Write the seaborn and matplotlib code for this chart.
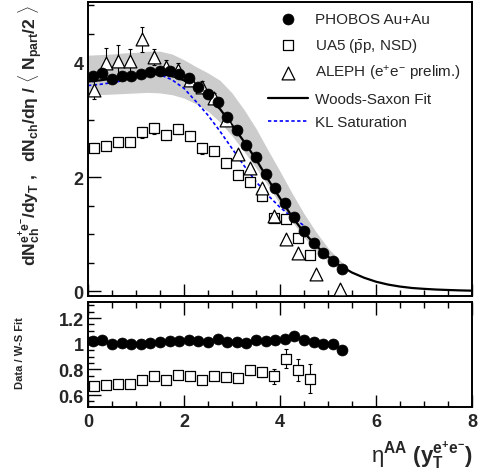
"""PHOBOS dN/deta compared to UA5 and ALEPH, with data/fit ratio panel."""

import matplotlib

matplotlib.use("Agg")

import matplotlib.pyplot as plt  # noqa: E402
import seaborn as sns  # noqa: E402
from matplotlib.ticker import MultipleLocator  # noqa: E402

# PHOBOS Au+Au (filled circles)
phobos_eta = [0.1, 0.3, 0.5, 0.7, 0.9, 1.1, 1.3, 1.5, 1.7, 1.9, 2.1, 2.3, 2.5, 2.7,
              2.9, 3.1, 3.3, 3.5, 3.7, 3.9, 4.1, 4.3, 4.5, 4.7, 4.9, 5.1, 5.3]
phobos_val = [3.76, 3.81, 3.71, 3.77, 3.76, 3.80, 3.83, 3.86, 3.85, 3.80, 3.73, 3.58, 3.46, 3.32,
              3.05, 2.82, 2.56, 2.35, 2.06, 1.80, 1.54, 1.30, 1.05, 0.85, 0.67, 0.53, 0.39]
phobos_ratio = [1.021, 1.026, 0.995, 1.003, 0.995, 1.000, 1.005, 1.016, 1.021, 1.021, 1.026,
                1.021, 1.016, 1.036, 1.010, 1.010, 1.005, 1.026, 1.021, 1.026, 1.036, 1.057,
                1.031, 1.016, 1.000, 1.000, 0.948]

# UA5 pbar-p NSD (open squares)
ua5_eta = [0.125, 0.375, 0.625, 0.875, 1.125, 1.375, 1.625, 1.875, 2.125, 2.375,
           2.625, 2.875, 3.125, 3.375, 3.625, 3.875, 4.125, 4.375, 4.625]
ua5_val = [2.51, 2.55, 2.61, 2.62, 2.78, 2.85, 2.74, 2.84, 2.72, 2.50,
           2.45, 2.24, 2.04, 1.91, 1.66, 1.29, 1.26, 0.94, 0.64]
ua5_err = [0.08, 0.08, 0.08, 0.08, 0.09, 0.09, 0.09, 0.09, 0.09, 0.09,
           0.09, 0.09, 0.08, 0.08, 0.08, 0.07, 0.07, 0.06, 0.06]
ua5_ratio = [0.674, 0.682, 0.690, 0.690, 0.719, 0.745, 0.719, 0.758, 0.752, 0.719,
             0.745, 0.740, 0.734, 0.792, 0.781, 0.745, 0.883, 0.797, 0.727]
ua5_ratio_err = [0.02, 0.02, 0.02, 0.02, 0.02, 0.02, 0.02, 0.02, 0.02, 0.02,
                 0.02, 0.02, 0.02, 0.036, 0.04, 0.057, 0.072, 0.085, 0.113]

# ALEPH e+e- preliminary (open triangles)
aleph_eta = [0.125, 0.375, 0.625, 0.875, 1.125, 1.375, 1.625, 1.875, 2.125, 2.375,
             2.625, 2.875, 3.125, 3.375, 3.625, 3.875, 4.125, 4.375, 4.75, 5.25]
aleph_val = [3.53, 3.99, 4.02, 4.02, 4.41, 4.10, 3.92, 3.87, 3.70, 3.58,
             3.39, 2.99, 2.40, 2.15, 1.81, 1.31, 0.92, 0.67, 0.30, 0.05]
aleph_err = [0.17, 0.26, 0.28, 0.22, 0.22, 0.14, 0.13, 0.12, 0.10, 0.10,
             0.08, 0.07, 0.06, 0.05, 0.05, 0.05, 0.04, 0.04, 0.03, 0.02]

# Woods-Saxon fit curve
fit_eta = [0.0, 0.25, 0.5, 0.75, 1.0, 1.25, 1.5, 1.75, 2.0, 2.25, 2.5, 2.75, 3.0,
           3.25, 3.5, 3.75, 4.0, 4.25, 4.5, 4.75, 5.0, 5.25, 5.5, 5.75, 6.0, 6.25,
           6.5, 6.75, 7.0, 7.25, 7.5, 7.75, 8.0]
fit_val = [3.67, 3.69, 3.72, 3.76, 3.79, 3.81, 3.81, 3.77, 3.69, 3.56, 3.40, 3.19, 2.91,
           2.62, 2.31, 1.96, 1.63, 1.31, 1.03, 0.80, 0.61, 0.45, 0.33, 0.24, 0.17, 0.12,
           0.085, 0.06, 0.045, 0.033, 0.025, 0.018, 0.013]

# systematic band around PHOBOS
band_eta = [0.0, 0.25, 0.5, 0.75, 1.0, 1.25, 1.5, 1.75, 2.0, 2.25, 2.5, 2.75, 3.0,
            3.25, 3.5, 3.75, 4.0, 4.25, 4.5, 4.75, 5.0, 5.25, 5.4]
band_hi = [4.13, 4.14, 4.15, 4.17, 4.18, 4.20, 4.20, 4.15, 4.05, 3.93, 3.82, 3.69, 3.47,
           3.18, 2.85, 2.47, 2.10, 1.72, 1.36, 1.04, 0.76, 0.54, 0.44]
band_lo = [3.44, 3.44, 3.45, 3.46, 3.47, 3.48, 3.47, 3.44, 3.38, 3.28, 3.15, 2.96, 2.72,
           2.45, 2.16, 1.85, 1.53, 1.22, 0.95, 0.72, 0.53, 0.38, 0.33]

# KL saturation curve
kl_eta = [0.0, 0.25, 0.5, 0.75, 1.0, 1.25, 1.4, 1.5, 1.75, 2.0, 2.25, 2.5, 2.75,
          3.0, 3.25, 3.5, 3.75, 4.0, 4.25, 4.5]
kl_val = [3.60, 3.62, 3.65, 3.69, 3.74, 3.79, 3.81, 3.79, 3.70, 3.55, 3.32, 3.08, 2.80,
          2.50, 2.20, 1.92, 1.68, 1.47, 1.30, 1.15]

sns.set_theme(style="ticks")
plt.rcParams["font.family"] = ["Liberation Sans", "DejaVu Sans"]
plt.rcParams["mathtext.fontset"] = "custom"
plt.rcParams["mathtext.rm"] = "Liberation Sans"
plt.rcParams["mathtext.it"] = "Liberation Sans:italic"
plt.rcParams["mathtext.bf"] = "Liberation Sans:bold"
plt.rcParams["mathtext.default"] = "bf"

W, H = 479, 477
fig = plt.figure(figsize=(W / 100, H / 100), dpi=100)
fig.patch.set_facecolor("white")

ax = fig.add_axes([88 / W, 1 - 297 / H, 384 / W, 294 / H])
ax2 = fig.add_axes([88 / W, 1 - 408 / H, 384 / W, 105 / H])

for a in (ax, ax2):
    a.set_facecolor("white")
    for sp in a.spines.values():
        sp.set_linewidth(1.4)
        sp.set_color("black")
        sp.set_visible(True)

# ---- main panel ----
ax.fill_between(band_eta, band_lo, band_hi, color="#cccccc", linewidth=0, zorder=1)
sns.lineplot(x=kl_eta, y=kl_val, color="#0000ff", linewidth=1.2,
             linestyle=(0, (2, 1.5)), label="KL Saturation", ax=ax, zorder=2)
sns.lineplot(x=fit_eta, y=fit_val, color="black", linewidth=1.6,
             label="Woods-Saxon Fit", ax=ax, zorder=3)

ax.errorbar(ua5_eta, ua5_val, yerr=ua5_err, fmt="none", ecolor="black",
            elinewidth=0.8, capsize=1.5, capthick=0.8, zorder=4)
sns.scatterplot(x=ua5_eta, y=ua5_val, marker="s", s=42, facecolor="white",
                edgecolor="black", linewidth=0.9, label=r"UA5 ($\mathrm{\bar{p}p}$, NSD)",
                ax=ax, zorder=5)

ax.errorbar(aleph_eta, aleph_val, yerr=aleph_err, fmt="none", ecolor="black",
            elinewidth=0.8, capsize=1.5, capthick=0.8, zorder=6)
sns.scatterplot(x=aleph_eta, y=aleph_val, marker="^", s=85, facecolor="white",
                edgecolor="black", linewidth=0.9,
                label=r"ALEPH (e$^{\mathrm{+}}$e$^{\mathrm{-}}$ prelim.)", ax=ax, zorder=7)

sns.scatterplot(x=phobos_eta, y=phobos_val, marker="o", s=62, color="black",
                edgecolor="black", linewidth=0.5, label="PHOBOS Au+Au", ax=ax, zorder=8)

ax.set_xlim(0, 8)
ax.set_ylim(-0.08, 5.06)
ax.set_xlabel("")
ax.set_ylabel("")
ax.yaxis.set_major_locator(MultipleLocator(2))
ax.yaxis.set_minor_locator(MultipleLocator(0.5))
ax.xaxis.set_major_locator(MultipleLocator(2))
ax.xaxis.set_minor_locator(MultipleLocator(0.5))
ax.tick_params(which="both", direction="in", top=False, right=False,
               labelbottom=False, width=1.0, color="black")
ax.tick_params(which="major", length=9)
ax.tick_params(which="minor", length=4.5)
ax.tick_params(axis="y", labelsize=13, pad=3)
for t in ax.get_yticklabels():
    t.set_fontweight("bold")

handles, labels = ax.get_legend_handles_labels()
lookup = dict(zip(labels, handles))
order = ["PHOBOS Au+Au", r"UA5 ($\mathrm{\bar{p}p}$, NSD)",
         r"ALEPH (e$^{\mathrm{+}}$e$^{\mathrm{-}}$ prelim.)", "Woods-Saxon Fit", "KL Saturation"]
leg = ax.legend([lookup[k] for k in order], order, loc="upper left",
                bbox_to_anchor=(0.469, 0.966), frameon=False, fontsize=11,
                handlelength=2.63, handletextpad=0.45, labelspacing=0.63,
                borderpad=0, borderaxespad=0, scatterpoints=1)
for t in leg.get_texts():
    t.set_fontweight("normal")

# ---- ratio panel ----
ax2.errorbar(ua5_eta, ua5_ratio, yerr=ua5_ratio_err, fmt="none", ecolor="black",
             elinewidth=0.8, capsize=1.5, capthick=0.8, zorder=2)
sns.scatterplot(x=ua5_eta, y=ua5_ratio, marker="s", s=42, facecolor="white",
                edgecolor="black", linewidth=0.9, ax=ax2, zorder=3)
sns.scatterplot(x=phobos_eta, y=phobos_ratio, marker="o", s=62, color="black",
                edgecolor="black", linewidth=0.5, ax=ax2, zorder=4)

ax2.set_xlim(0, 8)
ax2.set_ylim(0.507, 1.325)
ax2.set_xlabel("")
ax2.set_ylabel("")
ax2.xaxis.set_major_locator(MultipleLocator(2))
ax2.xaxis.set_minor_locator(MultipleLocator(0.5))
ax2.yaxis.set_major_locator(MultipleLocator(0.2))
ax2.yaxis.set_minor_locator(MultipleLocator(0.05))
ax2.set_yticks([0.6, 0.8, 1.0, 1.2])
ax2.set_yticklabels(["0.6", "0.8", "1", "1.2"])
ax2.tick_params(which="both", direction="in", top=True, right=False,
                width=1.0, color="black")
ax2.tick_params(which="major", length=9)
ax2.tick_params(which="minor", length=4.5)
ax2.tick_params(axis="both", labelsize=13)
ax2.tick_params(axis="y", pad=3)
ax2.tick_params(axis="x", pad=4)
for t in ax2.get_xticklabels() + ax2.get_yticklabels():
    t.set_fontweight("bold")

# ---- axis titles ----
fig.text(0.063, 1 - 136 / H,
         r"$dN^{e^{+}e^{-}}_{ch}/dy_{T}\ ,\ \ dN_{ch}/d\eta\ /\ \langle\ N_{part}/2\ \rangle$",
         rotation=90, ha="center", va="center", fontsize=12.6, fontweight="bold")
fig.text(20 / W, 1 - 353 / H, "Data / W-S Fit", rotation=90, ha="center",
         va="center", fontsize=8, fontweight="bold")
fig.text(473 / W, 6 / H, r"$\mathrm{\eta}^{AA}\ (y_{T}^{e^{+}e^{-}})$",
         ha="right", va="bottom", fontsize=16, fontweight="bold")

fig.savefig("out.png", dpi=100, facecolor="white")
plt.close(fig)
